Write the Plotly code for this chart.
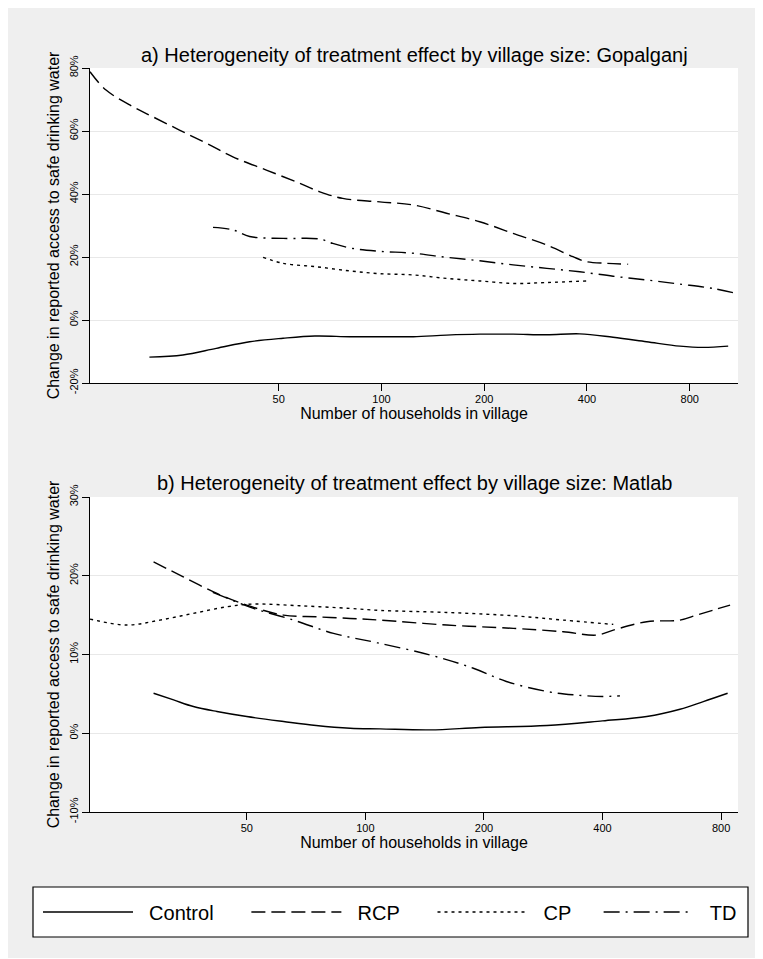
import math
import plotly.graph_objects as go
from plotly.subplots import make_subplots

# ---------------- Data ----------------
# Panel a) Gopalganj
g_control_x = [20.9, 26.2, 32.8, 41.1, 51.5, 63.8, 80.7, 98.9, 124, 155, 194, 243, 305, 381, 477, 598, 749, 876, 1037]
g_control_y = [-11.8, -11.1, -9.0, -6.9, -5.8, -5.1, -5.3, -5.3, -5.3, -4.8, -4.5, -4.5, -4.7, -4.4, -5.5, -6.9, -8.3, -8.7, -8.3]

g_rcp_x = [14.0, 15.6, 18.7, 21.4, 25.6, 30.7, 36.7, 46, 57.6, 66, 77, 98.9, 124, 155, 194, 243, 305, 364, 399, 457, 528]
g_rcp_y = [78.8, 73.0, 67.7, 64.5, 60.3, 56.1, 51.8, 47.6, 43.4, 40.7, 38.6, 37.5, 36.5, 33.9, 31.2, 27.5, 23.8, 20.1, 18.5, 18.0, 17.7]

g_cp_x = [45, 51.5, 64.5, 80.7, 98.9, 124, 155, 194, 243, 305, 399]
g_cp_y = [19.9, 18.0, 16.9, 15.6, 14.7, 14.3, 13.2, 12.4, 11.6, 11.9, 12.4]

g_td_x = [32.1, 36.7, 41.1, 51.5, 66, 72, 82.5, 98.9, 124, 155, 194, 243, 305, 381, 477, 598, 749, 938, 1108]
g_td_y = [29.4, 28.6, 26.5, 25.9, 25.7, 24.3, 22.7, 21.8, 21.2, 19.9, 18.8, 17.5, 16.4, 15.3, 13.9, 12.7, 11.4, 10.0, 8.3]

# Panel b) Matlab
m_control_x = [29, 32.6, 36.6, 42, 50, 62, 75, 91.5, 109, 146, 195.5, 289, 400, 518, 629, 721, 831]
m_control_y = [5.08, 4.23, 3.39, 2.76, 2.12, 1.49, 0.98, 0.64, 0.56, 0.43, 0.73, 0.98, 1.57, 2.12, 3.05, 4.02, 5.08]

m_rcp_x = [29, 34.5, 42, 50, 62, 75, 91.5, 109, 161, 237.5, 318, 387, 426, 518, 629, 693, 764, 843]
m_rcp_y = [21.76, 19.86, 17.75, 16.27, 15.0, 14.79, 14.58, 14.37, 13.74, 13.32, 12.89, 12.47, 13.1, 14.16, 14.37, 15.0, 15.64, 16.27]

m_cp_x = [20, 24.8, 30.1, 36.6, 44.5, 52, 68, 91.5, 109, 161, 237.5, 318, 426]
m_cp_y = [14.5, 13.74, 14.37, 15.22, 16.06, 16.40, 16.19, 15.85, 15.6, 15.34, 14.92, 14.37, 13.82]

m_td_x = [41, 48, 52, 65.7, 83, 107, 146, 188, 228, 289, 337, 400, 443]
m_td_y = [17.9, 16.5, 15.85, 14.37, 12.68, 11.5, 9.94, 8.25, 6.57, 5.30, 4.88, 4.67, 4.75]

series_names = ["Control", "RCP", "CP", "TD"]
x_ticks = [50, 100, 200, 400, 800]
y_ticks_a = [-20, 0, 20, 40, 60, 80]
y_ticks_b = [-10, 0, 10, 20, 30]
title_a = "a) Heterogeneity of treatment effect by village size: Gopalganj"
title_b = "b) Heterogeneity of treatment effect by village size: Matlab"
x_title = "Number of households in village"
y_title = "Change in reported access to safe drinking water"

# ---------------- Styling ----------------
FONT = "Liberation Sans, Arial, Helvetica, sans-serif"
OFF = 8                      # page body margin
W, H = 754, 950
# plot-area edges in page pixels
P_L, P_R = 90, 738
A_T, A_B = 68, 383
B_T, B_B = 497, 812
ML = P_L - OFF
MR = W - (P_R - OFF)
MT = A_T - OFF
MB = H - (B_B - OFF)
PH = H - MT - MB
PW = W - ML - MR

def py(page_y):
    return (H - MB - (page_y - OFF)) / PH

def pxx(page_x):
    return ((page_x - OFF) - ML) / PW

dashes = {"Control": "solid", "RCP": "14px,6px", "CP": "3px,4px", "TD": "16px,6px,2px,6px"}
NB = "\u00a0"
legend_labels = {"Control": NB * 2 + "Control" + NB * 5,
                 "RCP": NB * 2 + "RCP" + NB * 5,
                 "CP": NB * 2 + "CP" + NB * 4,
                 "TD": NB * 2 + "TD"}

fig = make_subplots(rows=2, cols=1)

panel_a = [(g_control_x, g_control_y), (g_rcp_x, g_rcp_y), (g_cp_x, g_cp_y), (g_td_x, g_td_y)]
panel_b = [(m_control_x, m_control_y), (m_rcp_x, m_rcp_y), (m_cp_x, m_cp_y), (m_td_x, m_td_y)]

for name, (x, y) in zip(series_names, panel_a):
    fig.add_trace(go.Scatter(x=x, y=y, mode="lines", name=legend_labels[name], line_shape="spline",
                             line=dict(color="black", width=1.4, dash=dashes[name]),
                             showlegend=True, hoverinfo="skip"), row=1, col=1)
for name, (x, y) in zip(series_names, panel_b):
    fig.add_trace(go.Scatter(x=x, y=y, mode="lines", name=legend_labels[name], line_shape="spline",
                             line=dict(color="black", width=1.4, dash=dashes[name]),
                             showlegend=False, hoverinfo="skip"), row=2, col=1)

top_dom = [py(A_B), 1.0]
bot_dom = [0.0, py(B_T)]

common_x = dict(type="log", tickvals=x_ticks, ticktext=[str(v) for v in x_ticks],
                showline=True, linecolor="black", linewidth=1, ticks="outside", ticklen=7,
                tickcolor="black", tickwidth=1, showgrid=False, zeroline=False,
                ticklabelstandoff=-1,
                tickfont=dict(size=11, color="black", family=FONT),
                title=dict(text=x_title, font=dict(size=16, color="black", family=FONT), standoff=1))
common_y = dict(showline=True, linecolor="black", linewidth=1, ticks="outside", ticklen=7,
                tickcolor="black", tickwidth=1, showgrid=True, gridcolor="#e8e8e8", gridwidth=1.2,
                zeroline=False, tickangle=-90, ticklabelstandoff=0,
                tickfont=dict(size=11, color="black", family=FONT),
                title=dict(text=y_title, font=dict(size=16, color="black", family=FONT), standoff=3))

fig.update_xaxes(common_x, range=[math.log10(14), math.log10(1108)], domain=[0, 1], row=1, col=1)
fig.update_xaxes(common_x, range=[math.log10(20), math.log10(883)], domain=[0, 1], row=2, col=1)
fig.update_yaxes(common_y, range=[-20, 80], tickvals=y_ticks_a,
                 ticktext=[f"{v}%" for v in y_ticks_a], domain=top_dom, row=1, col=1)
fig.update_yaxes(common_y, range=[-10, 30], tickvals=y_ticks_b,
                 ticktext=[f"{v}%" for v in y_ticks_b], domain=bot_dom, row=2, col=1)

fig.add_annotation(text=title_a, xref="paper", yref="paper", x=0.5, y=py(55), showarrow=False,
                   xanchor="center", yanchor="middle", font=dict(size=20, color="black", family=FONT))
fig.add_annotation(text=title_b, xref="paper", yref="paper", x=0.5, y=py(483), showarrow=False,
                   xanchor="center", yanchor="middle", font=dict(size=20, color="black", family=FONT))

# legend frame
fig.add_shape(type="rect", xref="paper", yref="paper", x0=pxx(33), x1=pxx(748), y0=py(937), y1=py(887),
              fillcolor="white", line=dict(color="black", width=1.2), layer="above")

fig.update_layout(
    width=W, height=H,
    margin=dict(l=ML, r=MR, t=MT, b=MB, autoexpand=False),
    paper_bgcolor="#efefef", plot_bgcolor="white",
    font=dict(family=FONT, color="black"),
    legend=dict(orientation="h", x=pxx(38), y=py(912), xanchor="left", yanchor="middle",
                bgcolor="rgba(0,0,0,0)", borderwidth=0,
                font=dict(size=20, color="black", family=FONT),
                itemwidth=90, tracegroupgap=0),
    showlegend=True,
)

fig.write_html("out.html")
